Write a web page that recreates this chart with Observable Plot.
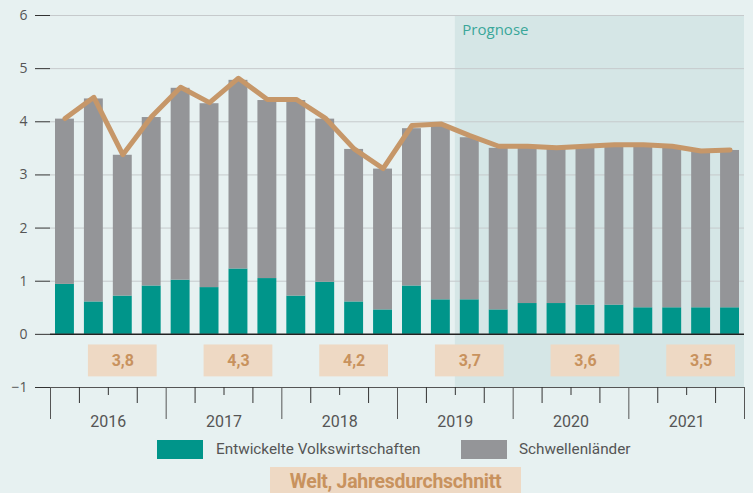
<!DOCTYPE html>
<html>
<head>
<meta charset="utf-8">
<script src="https://cdn.jsdelivr.net/npm/d3@7"></script>
<script src="https://cdn.jsdelivr.net/npm/@observablehq/plot@0.6"></script>
<style>
  html, body { margin: 0; padding: 0; background: #e7f1f1; overflow: hidden; }
  #chart { width: 753px; height: 432px; }
  #legend { position: relative; width: 753px; height: 61px; font-family: Roboto, sans-serif; color: #555; }
  .sw { position: absolute; top: 8px; width: 46px; height: 19px; }
  .lt { position: absolute; top: 8px; height: 19px; line-height: 19px; font-size: 15.3px; white-space: nowrap; }
  #welt { position: absolute; left: 270px; top: 35px; width: 251px; height: 30px; background: #eed9c4; color: #c8925e; font-weight: bold; font-size: 19.5px; text-align: center; line-height: 29px; white-space: nowrap; letter-spacing: -0.3px; }
</style>
</head>
<body>
<div id="chart"></div>
<div id="legend">
  <div class="sw" style="left:157px;background:#00958a"></div>
  <div class="lt" style="left:216px">Entwickelte Volkswirtschaften</div>
  <div class="sw" style="left:461px;background:#949598"></div>
  <div class="lt" style="left:519px">Schwellenländer</div>
  <div id="welt">Welt, Jahresdurchschnitt</div>
</div>
<script>
const quarters = ["2016 Q1","2016 Q2","2016 Q3","2016 Q4","2017 Q1","2017 Q2","2017 Q3","2017 Q4",
  "2018 Q1","2018 Q2","2018 Q3","2018 Q4","2019 Q1","2019 Q2","2019 Q3","2019 Q4",
  "2020 Q1","2020 Q2","2020 Q3","2020 Q4","2021 Q1","2021 Q2","2021 Q3","2021 Q4"];
const developed = [0.94,0.61,0.72,0.91,1.02,0.88,1.23,1.05,0.72,0.98,0.61,0.46,
  0.91,0.65,0.65,0.46,0.58,0.58,0.55,0.55,0.50,0.50,0.50,0.50];
const emerging = [3.11,3.82,2.65,3.17,3.61,3.46,3.55,3.35,3.68,3.07,2.87,2.65,
  2.96,3.27,3.05,3.04,2.92,2.91,2.95,2.98,3.03,3.00,2.93,2.96];
const world = [4.06,4.46,3.38,4.10,4.65,4.36,4.82,4.42,4.42,4.07,3.49,3.12,
  3.93,3.96,3.74,3.54,3.54,3.51,3.54,3.57,3.57,3.54,3.45,3.47];
const years = ["2016","2017","2018","2019","2020","2021"];
const yearAverage = ["3,8","4,3","4,2","3,7","3,6","3,5"];
const forecastStart = "2019 Q3";
const forecastLabel = "Prognose";
const yTicks = [-1,0,1,2,3,4,5,6];

const rows = quarters.map((q, i) => ({q, i, dev: developed[i], em: emerging[i], world: world[i]}));
const yearRows = years.map((y, k) => ({year: y, k, avg: yearAverage[k]}));
const fIdx = quarters.indexOf(forecastStart);
const nQ = quarters.length;

const font = "Roboto, sans-serif";

const chart = Plot.plot({
  width: 753, height: 432,
  marginLeft: 50, marginRight: 9, marginTop: 15, marginBottom: 45,
  x: {domain: [0, nQ], axis: null},
  y: {domain: [-1, 6], axis: null},
  style: {background: "transparent", fontFamily: font},
  marks: [
    Plot.rect([{}], {x1: fIdx, x2: nQ, y1: -1, y2: 6, fill: "#d5e6e6"}),
    Plot.ruleY(yTicks.filter(d => d > 0), {stroke: "#c6cacc", strokeWidth: 1}),
    Plot.rect(rows, {x1: d => d.i, x2: d => d.i + 1, y1: 0, y2: d => d.dev, fill: "#00958a", insetLeft: 5, insetRight: 5}),
    Plot.rect(rows, {x1: d => d.i, x2: d => d.i + 1, y1: d => d.dev, y2: d => d.dev + d.em, fill: "#949598", insetLeft: 5, insetRight: 5}),
    Plot.line(rows, {x: d => d.i + 0.5, y: "world", stroke: "#c69769", strokeWidth: 5, strokeLinejoin: "round", strokeLinecap: "round"}),
    Plot.ruleY([0], {stroke: "#222", strokeWidth: 1.5}),
    Plot.ruleY([-1], {stroke: "#555", strokeWidth: 1.2}),
    Plot.rect(yearRows, {x1: d => d.k * 4 + 1, x2: d => d.k * 4 + 4, y1: -0.2, y2: -0.8, fill: "#eed9c4", insetLeft: 9, insetRight: 9}),
    Plot.text(yearRows, {x: d => d.k * 4 + 2.5, y: -0.5, text: "avg", fill: "#c8925e", fontWeight: "bold", fontSize: 16, fontFamily: font}),
    Plot.text([forecastLabel], {x: fIdx, y: 6, text: d => d, dx: 7, dy: 15, textAnchor: "start", fill: "#3aa79a", fontSize: 15, fontFamily: "'Open Sans', sans-serif"}),
    Plot.axisY(yTicks, {anchor: "left", tickSize: 15, tickPadding: 8, stroke: "#333", fill: "#555", fontSize: 14, fontFamily: "'Open Sans', sans-serif", tickFormat: d => d < 0 ? "\u2212" + (-d) : String(d), label: null}),
    Plot.axisX(d3.range(0, nQ + 1, 4), {anchor: "bottom", tickSize: 32, stroke: "#555", tickFormat: () => "", label: null}),
    Plot.axisX(d3.range(0, nQ).filter(i => i % 4 === 1 || i % 4 === 3), {anchor: "bottom", tickSize: 16, stroke: "#333", tickFormat: () => "", label: null}),
    Plot.axisX(d3.range(2, nQ, 4), {anchor: "bottom", tickSize: 8, stroke: "#333", tickPadding: 20, fill: "#555", fontSize: 16, tickFormat: i => years[(i - 2) / 4], label: null})
  ]
});
document.getElementById("chart").appendChild(chart);
</script>
</body>
</html>
